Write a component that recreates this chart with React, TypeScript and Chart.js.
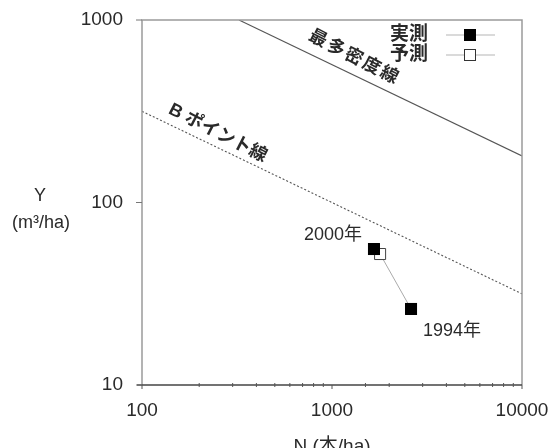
import React, { useEffect, useRef } from "react";
import { Chart, registerables } from "chart.js";

Chart.register(...registerables);

// ---- data ----
const measuredN = [1663, 2606];
const measuredY = [55.6, 26.1];
const predictedN = [2606, 1791];
const predictedY = [26.1, 52.2];
const maxDensityN = [324, 10000];
const maxDensityY = [1000, 180];
const bPointN = [100, 10000];
const bPointY = [316, 31.6];
const xTickLabels = [100, 1000, 10000];
const yTickLabels = [10, 100, 1000];
const yearLabels = ["2000年", "1994年"];
const lineLabels = ["最多密度線", "B ポイント線"];
const lineLabelAnchorN = [1200, 233];
const legendLabels = ["実測", "予測"];
const xTitle = "N (本/ha)";
const yTitle = ["Y", "(m³/ha)"];

const NUM_FONT = '"Liberation Sans", Arial, sans-serif';
const CJK_FONT = '"Liberation Sans", "Noto Sans CJK JP", sans-serif';
const TEXT = "#2a2a2a";

const isLabel = (v: number, list: number[]) =>
  list.some((t) => Math.abs(Math.log10(v) - Math.log10(t)) < 1e-6);

const pts = (xs: number[], ys: number[]) => xs.map((x, i) => ({ x, y: ys[i] }));

const decorPlugin = {
  id: "decor",
  afterDraw(chart: any) {
    const { ctx, chartArea, scales } = chart;
    const xs = scales.x;
    const ys = scales.y;
    const { left, right, top, bottom } = chartArea;
    ctx.save();

    // frame
    ctx.strokeStyle = "#9a9a9a";
    ctx.lineWidth = 1.5;
    ctx.beginPath();
    ctx.moveTo(left, bottom);
    ctx.lineTo(left, top);
    ctx.lineTo(right, top);
    ctx.lineTo(right, bottom);
    ctx.stroke();
    ctx.strokeStyle = "#444";
    ctx.beginPath();
    ctx.moveTo(left - 5, bottom);
    ctx.lineTo(right, bottom);
    ctx.stroke();

    // y major ticks
    ctx.strokeStyle = "#777";
    ctx.lineWidth = 1;
    yTickLabels.forEach((v) => {
      const py = ys.getPixelForValue(v);
      ctx.beginPath();
      ctx.moveTo(left - 6, py);
      ctx.lineTo(left, py);
      ctx.stroke();
    });
    // x ticks
    ctx.strokeStyle = "#555";
    xs.ticks.forEach((t: any) => {
      const px = xs.getPixelForValue(t.value);
      const major = isLabel(t.value, xTickLabels);
      ctx.beginPath();
      if (major) {
        ctx.moveTo(px, bottom);
        ctx.lineTo(px, bottom + 4);
      } else {
        ctx.moveTo(px, bottom - 2);
        ctx.lineTo(px, bottom + 2);
      }
      ctx.stroke();
    });

    // axis titles
    ctx.fillStyle = TEXT;
    ctx.textAlign = "center";
    ctx.textBaseline = "middle";
    ctx.font = `18px ${CJK_FONT}`;
    ctx.fillText(yTitle[0], 40, 196);
    ctx.fillText(yTitle[1], 41, 223);
    ctx.font = `19px ${CJK_FONT}`;
    ctx.fillText(xTitle, (left + right) / 2, 447);

    // legend
    const legX = 428;
    const markX = 470;
    const legY = [35, 55];
    ctx.font = `bold 19px ${CJK_FONT}`;
    ctx.textAlign = "right";
    legendLabels.forEach((lab, i) => {
      ctx.fillStyle = TEXT;
      ctx.fillText(lab, legX, legY[i]);
      ctx.strokeStyle = "#b5b5b5";
      ctx.lineWidth = 1;
      ctx.beginPath();
      ctx.moveTo(446, legY[i]);
      ctx.lineTo(495, legY[i]);
      ctx.stroke();
      if (i === 0) {
        ctx.fillStyle = "#000";
        ctx.fillRect(markX - 6, legY[i] - 6, 12, 12);
      } else {
        ctx.fillStyle = "#fff";
        ctx.fillRect(markX - 6, legY[i] - 6, 12, 12);
        ctx.strokeStyle = "#333";
        ctx.strokeRect(markX - 5.5, legY[i] - 5.5, 11, 11);
      }
    });

    // year labels
    ctx.fillStyle = TEXT;
    ctx.font = `18px ${CJK_FONT}`;
    ctx.textAlign = "right";
    ctx.fillText(yearLabels[0], 362, 235);
    ctx.textAlign = "left";
    ctx.fillText(yearLabels[1], 423, 331);

    // rotated line labels
    const lines = [
      { n: maxDensityN, y: maxDensityY, off: 16, sp: "2px" },
      { n: bPointN, y: bPointY, off: 13, sp: "0px" },
    ];
    ctx.font = `bold 18px ${CJK_FONT}`;
    ctx.textAlign = "center";
    lines.forEach((ln, i) => {
      const x0 = xs.getPixelForValue(ln.n[0]);
      const y0 = ys.getPixelForValue(ln.y[0]);
      const x1 = xs.getPixelForValue(ln.n[1]);
      const y1 = ys.getPixelForValue(ln.y[1]);
      const ang = Math.atan2(y1 - y0, x1 - x0) + (1.5 * Math.PI) / 180;
      const ax = xs.getPixelForValue(lineLabelAnchorN[i]);
      const ay = y0 + ((ax - x0) * (y1 - y0)) / (x1 - x0);
      const cx = ax + Math.sin(ang) * ln.off;
      const cy = ay - Math.cos(ang) * ln.off;
      ctx.save();
      ctx.translate(cx, cy);
      ctx.rotate(ang);
      ctx.fillStyle = TEXT;
      try {
        (ctx as any).letterSpacing = ln.sp;
      } catch (e) {}
      ctx.fillText(lineLabels[i], 0, 0);
      ctx.restore();
    });

    ctx.restore();
  },
};

const zeroPad = (s: any) => {
  s.paddingTop = 0;
  s.paddingBottom = 0;
  s.paddingLeft = 0;
  s.paddingRight = 0;
};

export default function App() {
  const ref = useRef<HTMLCanvasElement | null>(null);
  useEffect(() => {
    document.body.style.margin = "0";
    const canvas = ref.current;
    if (!canvas) return;
    const chart = new Chart(canvas, {
      type: "scatter",
      data: {
        datasets: [
          {
            label: legendLabels[0],
            data: pts(measuredN, measuredY),
            showLine: false,
            pointStyle: "rect",
            pointRadius: 8.5,
            pointHoverRadius: 8.5,
            backgroundColor: "#000",
            borderColor: "#000",
            borderWidth: 0,
            order: 0,
          },
          {
            label: legendLabels[1],
            data: pts(predictedN, predictedY),
            showLine: true,
            pointStyle: "rect",
            pointRadius: [0, 7.8],
            pointHoverRadius: [0, 7.8],
            backgroundColor: "#fff",
            borderColor: "#333",
            pointBorderColor: "#444",
            borderWidth: 1,
            order: 1,
            segment: { borderColor: () => "#aaa" },
          } as any,
          {
            label: lineLabels[0],
            data: pts(maxDensityN, maxDensityY),
            showLine: true,
            pointRadius: 0,
            borderColor: "#555",
            borderWidth: 1.1,
            order: 2,
          },
          {
            label: lineLabels[1],
            data: pts(bPointN, bPointY),
            showLine: true,
            pointRadius: 0,
            borderColor: "#555",
            borderWidth: 1.1,
            borderDash: [2, 2],
            order: 3,
          },
        ],
      },
      options: {
        responsive: false,
        animation: false,
        devicePixelRatio: 1,
        layout: { padding: { top: 20, right: 34, left: 0, bottom: 0 } },
        plugins: { legend: { display: false }, tooltip: { enabled: false } },
        scales: {
          x: {
            type: "logarithmic",
            min: 100,
            max: 10000,
            grid: { display: false, drawTicks: false },
            border: { display: false },
            ticks: {
              autoSkip: false,
              maxRotation: 0,
              padding: 14,
              color: TEXT,
              font: { size: 19, family: NUM_FONT },
              callback: (v: any) => (isLabel(Number(v), xTickLabels) ? String(Math.round(Number(v))) : ""),
            },
            afterFit: (s: any) => {
              s.height = 63;
              zeroPad(s);
            },
          },
          y: {
            type: "logarithmic",
            min: 10,
            max: 1000,
            grid: { display: false, drawTicks: false },
            border: { display: false },
            ticks: {
              autoSkip: false,
              padding: 19,
              color: TEXT,
              font: { size: 19, family: NUM_FONT },
              callback: (v: any) => (isLabel(Number(v), yTickLabels) ? String(Math.round(Number(v))) : ""),
            },
            afterFit: (s: any) => {
              s.width = 142;
              zeroPad(s);
            },
          },
        },
      } as any,
      plugins: [decorPlugin],
    });
    return () => chart.destroy();
  }, []);
  return (
    <div style={{ width: 556, height: 448, background: "#fff" }}>
      <canvas ref={ref} width={556} height={448} style={{ display: "block", width: 556, height: 448 }} />
    </div>
  );
}
